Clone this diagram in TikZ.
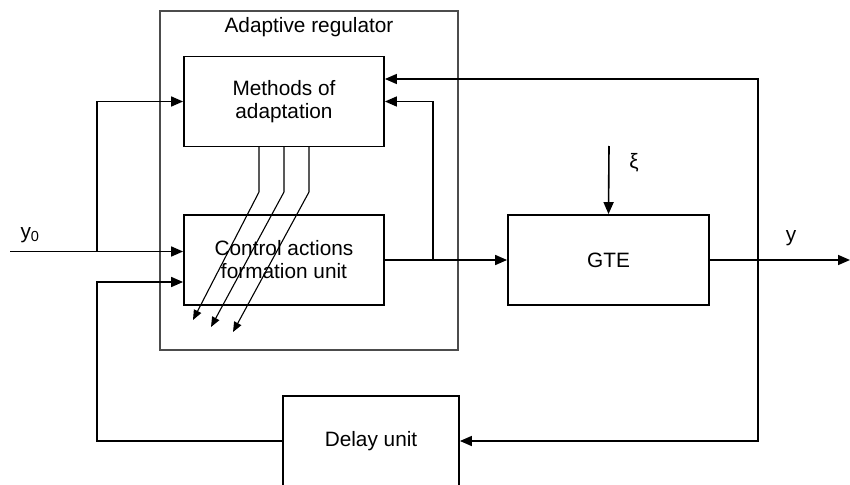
\documentclass[tikz,border=0pt]{standalone}
\usepackage{fontspec}
\setmainfont{Liberation Sans}
\usetikzlibrary{arrows.meta,calc}
\tikzset{
  blk/.style={draw, line width=1.8pt, minimum width=200pt, minimum height=90pt,
    align=center, inner sep=0pt, font=\fontsize{20.8}{23}\selectfont},
  lbl/.style={font=\fontsize{20.8}{23}\selectfont, inner sep=0pt},
  arr/.style={line width=1.6pt, -{Triangle[length=12pt,width=10pt]}},
  thin arr/.style={line width=1.1pt, -{Triangle[length=10pt,width=8pt]}},
  frm/.style={draw=black!70, line width=1.2pt}
}
\begin{document}
\begin{tikzpicture}[x=1pt,y=-1pt]
\useasboundingbox (0,0) rectangle (850,484);
\fill[white] (0,0) rectangle (850,484);

% adaptive regulator frame
\draw[frm] (160,11) rectangle (458,350);
\node[lbl] (title) at (309,27) {Adaptive regulator};

% blocks
\node[blk] (meth) at (284,101.5) {Methods of\\adaptation};
\node[blk] (ctrl) at (284,260) {Control actions\\formation unit};
\node[blk, minimum width=201pt] (gte) at (608.5,260) {GTE};
\node[blk, minimum width=176pt] (delay) at (371,441) {Delay unit};

% reference input y0
\coordinate (in) at (10,251.5);
\coordinate (b1) at (97,251.5);
\draw[arr] (in) -- (in -| ctrl.west);
\draw[arr] (b1) |- (meth.west);
\node[lbl] (y0) at (30,235) {y\textsubscript{0}};

% feedback through delay unit
\coordinate (fb) at (97,282);
\draw[arr] (delay.west) -| (fb) -- (fb -| ctrl.west);

% control action to GTE and back to adaptation
\coordinate (b2) at (433,260);
\draw[arr] (ctrl.east) -- (gte.west);
\draw[arr] (b2) |- (meth.east);

% disturbance
\coordinate (xi) at (609,146);
\draw[arr] (xi) -- (gte.north);
\node[lbl] (xil) at (634,163) {ξ};

% plant output y
\coordinate (out) at (850,260);
\coordinate (b3) at (758,260);
\draw[arr] (gte.east) -- (out);
\draw[arr] (b3) |- ([yshift=22.5pt]meth.east);
\draw[arr] (b3) |- (delay.east);
\node[lbl] (yl) at (791,238) {y};

% tuning links from adaptation to control unit
\coordinate (t1) at (259,146.5);
\coordinate (t2) at (284,146.5);
\coordinate (t3) at (309,146.5);
\draw[thin arr] (t1) -- (259,192) -- (193,320);
\draw[thin arr] (t2) -- (284,192) -- (211,327);
\draw[thin arr] (t3) -- (309,192) -- (233,332);
\end{tikzpicture}
\end{document}
